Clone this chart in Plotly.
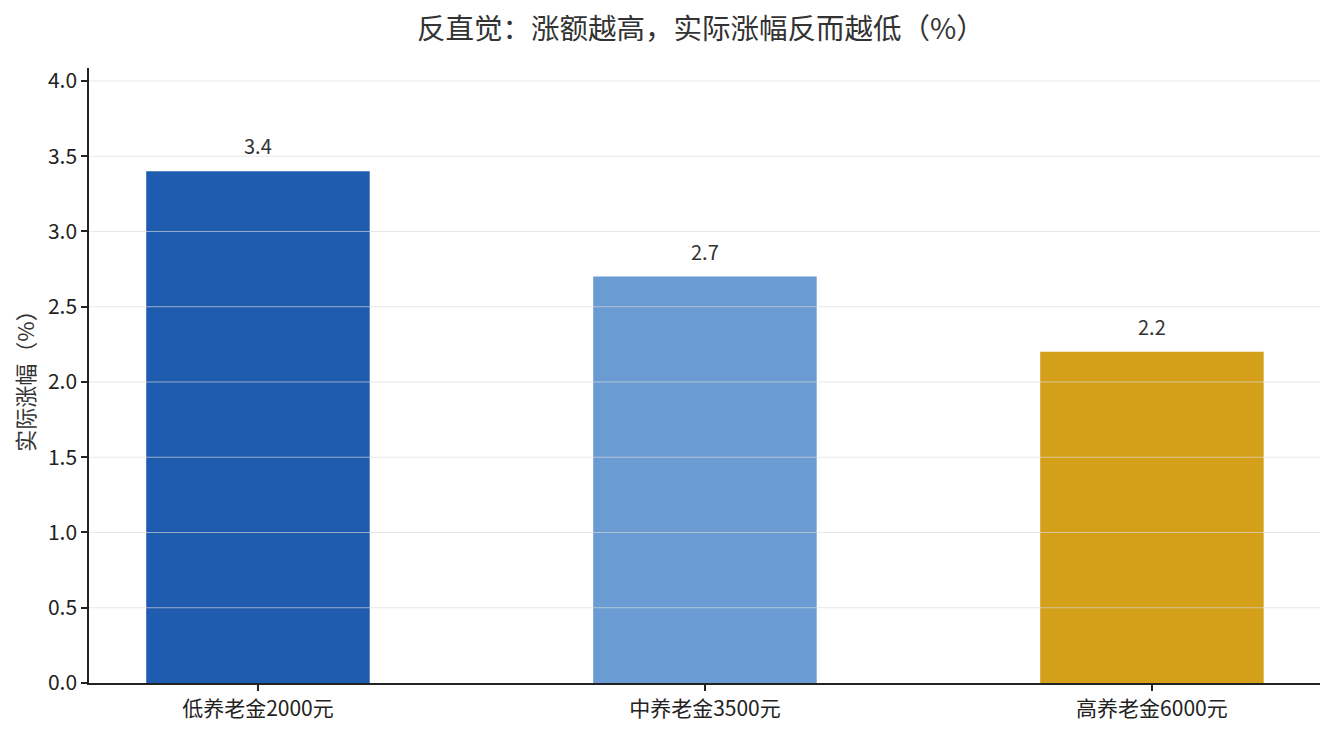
import plotly.graph_objects as go

categories = ["低养老金2000元", "中养老金3500元", "高养老金6000元"]
values = [3.4, 2.7, 2.2]
labels = ["3.4", "2.7", "2.2"]
colors = ["#1f5baf", "#6b9bd3", "#d4a01a"]
yticks = [0.0, 0.5, 1.0, 1.5, 2.0, 2.5, 3.0, 3.5, 4.0]

FONT = "Noto Sans CJK SC"
GRID = "rgba(220,220,220,0.65)"

fig = go.Figure()
fig.add_trace(go.Bar(
    x=categories, y=values, width=0.5,
    marker=dict(color=colors, line=dict(width=0)),
    hoverinfo="x+y",
))

for c, v, t in zip(categories, values, labels):
    fig.add_annotation(x=c, y=v, text=t, showarrow=False, yanchor="bottom", yshift=9,
                       font=dict(family=FONT, size=20, color="#333333"))

for v in yticks[1:]:
    fig.add_hline(y=v, line=dict(color=GRID, width=1), layer="above")

fig.update_layout(
    width=1335, height=735,
    paper_bgcolor="white", plot_bgcolor="white",
    margin=dict(l=81, r=23, t=60, b=60, autoexpand=False),
    title=dict(text="反直觉：涨额越高，实际涨幅反而越低（%）", x=0.519, xanchor="center",
               xref="container", y=1 - 21 / 735, yanchor="middle",
               font=dict(family=FONT, size=28.5, color="#333333")),
    font=dict(family=FONT, color="#222222"),
    showlegend=False,
)
fig.update_xaxes(
    range=[-0.378, 2.376],
    showline=True, linecolor="#222222", linewidth=1.5,
    ticks="outside", ticklen=6, tickcolor="#222222", tickwidth=1.5,
    tickfont=dict(family=FONT, size=21, color="#222222"),
    showgrid=False, zeroline=False, automargin=False,
)
fig.update_yaxes(
    range=[0, 4.086], tickvals=yticks, tickformat=".1f",
    showline=True, linecolor="#222222", linewidth=1.5,
    ticks="outside", ticklen=6, tickcolor="#222222", tickwidth=1.5,
    tickfont=dict(family=FONT, size=21, color="#222222"),
    showgrid=False, zeroline=False, automargin=False,
    title=dict(text="实际涨幅（%）", font=dict(family=FONT, size=22, color="#333333"), standoff=8),
)

fig.write_html("out.html")
